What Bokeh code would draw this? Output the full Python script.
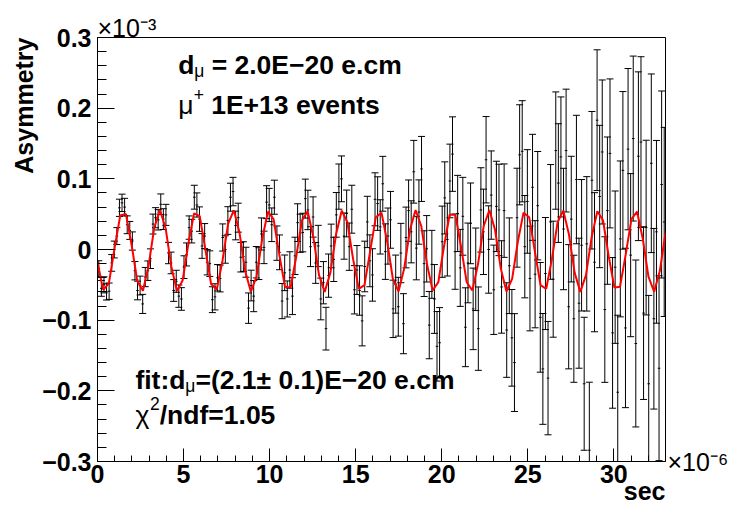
import math
import numpy as np
from bokeh.plotting import figure
from bokeh.models import FixedTicker, Label, ColumnDataSource, Range1d, Title, LinearAxis
from bokeh.embed import file_html
from bokeh.resources import INLINE

# ---------------- data (units: x in 1e-6 s, y in 1e-3) ----------------
bin_width = 0.15
n_bins = 220

asym = [
    -0.027, -0.055, -0.050, -0.060, -0.059, -0.019, 0.000, 0.019, 0.059, 0.066,
    0.060, 0.035, 0.027, 0.012, -0.030, -0.058, -0.051, -0.077, -0.039, -0.030,
    -0.013, 0.036, 0.045, 0.042, 0.064, 0.043, 0.049, -0.005, -0.019, -0.058,
    -0.045, -0.066, -0.070, -0.025, -0.007, 0.031, 0.026, 0.074, 0.063, 0.043,
    0.005, 0.019, -0.018, -0.020, -0.071, -0.067, -0.040, -0.041, 0.017, 0.000,
    0.041, 0.074, 0.082, 0.034, 0.045, -0.011, -0.010, -0.018, -0.083, -0.051,
    -0.066, -0.018, -0.020, 0.022, 0.003, 0.067, 0.063, 0.035, 0.074, 0.009,
    -0.004, -0.073, -0.033, -0.070, -0.029, -0.066, -0.009, 0.038, 0.023, 0.024,
    0.072, 0.056, 0.004, 0.046, -0.019, 0.005, -0.070, -0.047, -0.112, -0.037,
    0.005, -0.014, 0.049, 0.089, 0.100, 0.019, 0.051, 0.004, 0.057, -0.057,
    -0.029, -0.058, -0.101, -0.024, 0.039, -0.016, -0.036, 0.071, 0.065, 0.032,
    0.093, -0.003, 0.019, 0.042, -0.084, -0.049, -0.081, -0.005, -0.105, 0.017,
    0.055, 0.025, 0.110, 0.002, 0.053, 0.114, -0.020, 0.001, -0.107, -0.021,
    -0.070, -0.137, -0.132, 0.011, 0.073, 0.014, 0.097, 0.135, -0.003, 0.051,
    -0.026, 0.047, -0.110, -0.019, 0.037, -0.084, -0.028, -0.112, 0.056, 0.025,
    0.127, 0.000, 0.077, -0.057, 0.061, 0.056, -0.053, 0.055, -0.114, -0.023,
    -0.125, -0.160, 0.045, 0.134, 0.139, 0.004, 0.068, -0.041, 0.088, -0.035,
    0.062, -0.096, -0.169, -0.034, -0.182, 0.039, -0.042, 0.140, 0.094, 0.131,
    0.029, 0.140, -0.081, 0.043, -0.098, 0.099, -0.076, 0.006, -0.190, 0.008,
    -0.284, 0.098, -0.018, 0.183, 0.075, 0.138, -0.085, 0.055, 0.136, -0.118,
    -0.025, -0.202, 0.015, 0.112, -0.111, 0.142, -0.008, 0.157, -0.133, 0.132,
    0.152, -0.090, 0.031, -0.190, 0.122, -0.098, 0.025, -0.168, 0.092, 0.039,
]

asym_err = [
    0.0111, 0.0112, 0.0114, 0.0115, 0.0116, 0.0118, 0.0119, 0.0120, 0.0122, 0.0123,
    0.0124, 0.0126, 0.0127, 0.0129, 0.0130, 0.0132, 0.0133, 0.0135, 0.0136, 0.0138,
    0.0139, 0.0141, 0.0142, 0.0144, 0.0146, 0.0147, 0.0149, 0.0151, 0.0153, 0.0154,
    0.0156, 0.0158, 0.0160, 0.0161, 0.0163, 0.0165, 0.0167, 0.0169, 0.0171, 0.0173,
    0.0175, 0.0177, 0.0179, 0.0181, 0.0183, 0.0185, 0.0187, 0.0190, 0.0192, 0.0194,
    0.0196, 0.0198, 0.0201, 0.0203, 0.0205, 0.0208, 0.0210, 0.0212, 0.0215, 0.0217,
    0.0220, 0.0222, 0.0225, 0.0227, 0.0230, 0.0233, 0.0235, 0.0238, 0.0241, 0.0243,
    0.0246, 0.0249, 0.0252, 0.0255, 0.0258, 0.0261, 0.0264, 0.0267, 0.0270, 0.0273,
    0.0276, 0.0279, 0.0282, 0.0285, 0.0289, 0.0292, 0.0295, 0.0299, 0.0302, 0.0306,
    0.0309, 0.0313, 0.0316, 0.0320, 0.0324, 0.0327, 0.0331, 0.0335, 0.0339, 0.0342,
    0.0346, 0.0350, 0.0354, 0.0358, 0.0363, 0.0367, 0.0371, 0.0375, 0.0379, 0.0384,
    0.0388, 0.0393, 0.0397, 0.0402, 0.0406, 0.0411, 0.0416, 0.0420, 0.0425, 0.0430,
    0.0434, 0.0439, 0.0444, 0.0449, 0.0455, 0.0460, 0.0465, 0.0470, 0.0476, 0.0481,
    0.0487, 0.0492, 0.0498, 0.0504, 0.0510, 0.0515, 0.0521, 0.0527, 0.0533, 0.0539,
    0.0545, 0.0551, 0.0558, 0.0564, 0.0571, 0.0577, 0.0584, 0.0590, 0.0597, 0.0604,
    0.0611, 0.0618, 0.0625, 0.0632, 0.0639, 0.0647, 0.0654, 0.0661, 0.0669, 0.0677,
    0.0684, 0.0692, 0.0700, 0.0708, 0.0716, 0.0724, 0.0733, 0.0741, 0.0750, 0.0758,
    0.0767, 0.0776, 0.0784, 0.0793, 0.0802, 0.0812, 0.0821, 0.0830, 0.0840, 0.0849,
    0.0859, 0.0869, 0.0879, 0.0889, 0.0899, 0.0909, 0.0920, 0.0930, 0.0941, 0.0951,
    0.0962, 0.0973, 0.0984, 0.0996, 0.1007, 0.1019, 0.1030, 0.1042, 0.1054, 0.1066,
    0.1078, 0.1090, 0.1103, 0.1115, 0.1128, 0.1141, 0.1154, 0.1167, 0.1181, 0.1194,
    0.1208, 0.1222, 0.1236, 0.1250, 0.1264, 0.1278, 0.1293, 0.1308, 0.1323, 0.1338,
]

# fit curve, drawn as a 100-segment polyline over 0..33
fit_y = [
    -0.0179, -0.0571, -0.0479, 0.0016, 0.0480, 0.0504, 0.0068, -0.0446, -0.0585, -0.0228,
    0.0312, 0.0560, 0.0298, -0.0243, -0.0588, -0.0434, 0.0084, 0.0511, 0.0471, -0.0001,
    -0.0489, -0.0565, -0.0162, 0.0366, 0.0555, 0.0239, -0.0305, -0.0598, -0.0383, 0.0151,
    0.0535, 0.0431, -0.0069, -0.0526, -0.0538, -0.0095, 0.0414, 0.0542, 0.0175, -0.0363,
    -0.0600, -0.0327, 0.0215, 0.0551, 0.0385, -0.0137, -0.0556, -0.0504, -0.0026, 0.0457,
    0.0521, 0.0110, -0.0416, -0.0593, -0.0267, 0.0276, 0.0559, 0.0333, -0.0203, -0.0578,
    -0.0463, 0.0042, 0.0492, 0.0492, 0.0042, -0.0463, -0.0578, -0.0203, 0.0333, 0.0559,
    0.0276, -0.0267, -0.0593, -0.0415, 0.0110, 0.0521, 0.0457, -0.0026, -0.0504, -0.0556,
    -0.0137, 0.0385, 0.0551, 0.0215, -0.0327, -0.0600, -0.0363, 0.0176, 0.0542, 0.0414,
    -0.0095, -0.0538, -0.0526, -0.0069, 0.0431, 0.0535, 0.0151, -0.0383, -0.0598, -0.0305,
    0.0239,
]
fit_t = np.linspace(0.0, 33.0, len(fit_y))

x_ticks = [0, 5, 10, 15, 20, 25, 30]
y_ticks = [-0.3, -0.2, -0.1, 0, 0.1, 0.2, 0.3]
y_tick_labels = ["\u22120.3", "\u22120.2", "\u22120.1", "0", "0.1", "0.2", "0.3"]

# ---------------- figure ----------------
FONT = "Liberation Sans"
NB = "\u00a0"
t = np.arange(n_bins) * bin_width + bin_width / 2
a = np.array(asym)
e = np.array(asym_err)
src = ColumnDataSource(dict(t=t, y=a, lo=a - e, hi=a + e,
                            x0=t - bin_width / 2, x1=t + bin_width / 2))

p = figure(width=731, height=513, x_range=Range1d(0, 33), y_range=Range1d(-0.3, 0.3),
           output_backend="svg", toolbar_location=None,
           min_border_left=97, min_border_right=65, min_border_top=37, min_border_bottom=52)
p.xgrid.visible = False
p.ygrid.visible = False
p.background_fill_color = "white"
p.border_fill_color = "white"
p.outline_line_color = "black"
p.outline_line_width = 1
p.outline_line_alpha = 1.0

p.xaxis.ticker = FixedTicker(ticks=x_ticks, minor_ticks=list(range(0, 34)))
p.yaxis.ticker = FixedTicker(ticks=y_ticks,
                             minor_ticks=[round(-0.3 + 0.02 * k, 2) for k in range(31)])
p.yaxis.major_label_overrides = {v: s for v, s in zip(y_ticks, y_tick_labels)}
for ax, maj, mnr in ((p.xaxis, 13, 6), (p.yaxis, 17, 9)):
    ax.major_tick_in = maj
    ax.major_tick_out = 0
    ax.minor_tick_in = mnr
    ax.minor_tick_out = 0
    ax.axis_line_color = "black"
    ax.major_tick_line_color = "black"
    ax.minor_tick_line_color = "black"
    ax.major_label_text_font = FONT
    ax.major_label_text_font_style = "bold"
    ax.major_label_text_font_size = "25px"
    ax.major_label_text_color = "black"
    ax.axis_label_text_font = FONT
    ax.axis_label_text_font_style = "bold"
    ax.axis_label_text_font_size = "25px"
    ax.axis_label_text_color = "black"
p.xaxis.major_label_standoff = 3
p.yaxis.major_label_standoff = 6

# x-axis title at the far (right) end of the axis: the label is centred on the
# end, so it is padded with no-break spaces on the side that runs past the end
p.xaxis.axis_label = "sec" + NB * 6
p.xaxis.axis_label_standoff = -9
p.xaxis[0].axis_label_align = "end"

# y-axis title, rotated, ending at the top of the frame
p.add_layout(Title(text="Asymmetry", align="right", text_font=FONT,
                   text_font_size="25px", text_font_style="bold", standoff=4,
                   text_color="black"), "left")

# exponent of the x axis: label of an extra, otherwise empty axis on the right
ax6 = LinearAxis(ticker=FixedTicker(ticks=[]), axis_line_alpha=0,
                 major_tick_in=0, major_tick_out=0, minor_tick_in=0, minor_tick_out=0,
                 major_label_text_font_size="0px",
                 axis_label="\u00d710\u207b\u2076", axis_label_orientation="horizontal",
                 axis_label_standoff=2, axis_label_text_font=FONT,
                 axis_label_text_font_size="25px", axis_label_text_font_style="normal",
                 axis_label_text_color="black")
ax6.axis_label_align = "start"
p.add_layout(ax6, "right")

# exponent of the y axis, above the frame at its left end
p.add_layout(Title(text="\u00d710\u207b\u00b3", align="left", text_font=FONT,
                   text_font_size="25px", text_font_style="normal", standoff=-9,
                   text_color="black"), "above")

# error bars
p.segment(x0="t", y0="lo", x1="t", y1="hi", source=src, line_color="black", line_width=1)
p.segment(x0="x0", y0="y", x1="x1", y1="y", source=src, line_color="black", line_width=1)
p.scatter(x="t", y="hi", source=src, marker="dash", size=7, line_color="black", line_width=1)
p.scatter(x="t", y="lo", source=src, marker="dash", size=7, line_color="black", line_width=1)

# fit
p.line(fit_t, fit_y, line_color="#ff0000", line_width=2)


def lab(x, y, text, size="26.5px", style="bold", align="left", baseline="alphabetic"):
    p.add_layout(Label(x=x, y=y, text=text, text_font=FONT, text_font_size=size,
                       text_font_style=style, text_align=align, text_baseline=baseline,
                       text_color="black"))


# annotations (data coordinates inside the frame)
lab(4.698, 0.2604, "d")
lab(5.625, 0.2519, "\u03bc", size="17.5px", style="normal")
lab(6.206, 0.2604, NB + "= 2.0E\u221220 e.cm")
lab(4.698, 0.2038, "\u03bc", style="normal")
lab(5.585, 0.2193, "+", size="17.5px", style="normal")
lab(6.176, 0.2038, NB + "1E+13 events")
lab(2.204, -0.1840, "fit:d")
lab(5.104, -0.1925, "\u03bc", size="17.5px", style="normal")
lab(5.689, -0.1840, "=(2.1\u00b1 0.1)E\u221220 e.cm")
lab(2.204, -0.2349, "\u03c7", style="normal")
lab(3.051, -0.2179, "2", size="17.5px", style="normal")
lab(3.616, -0.2349, "/ndf=1.05")

open("out.html", "w").write(file_html(p, INLINE))
